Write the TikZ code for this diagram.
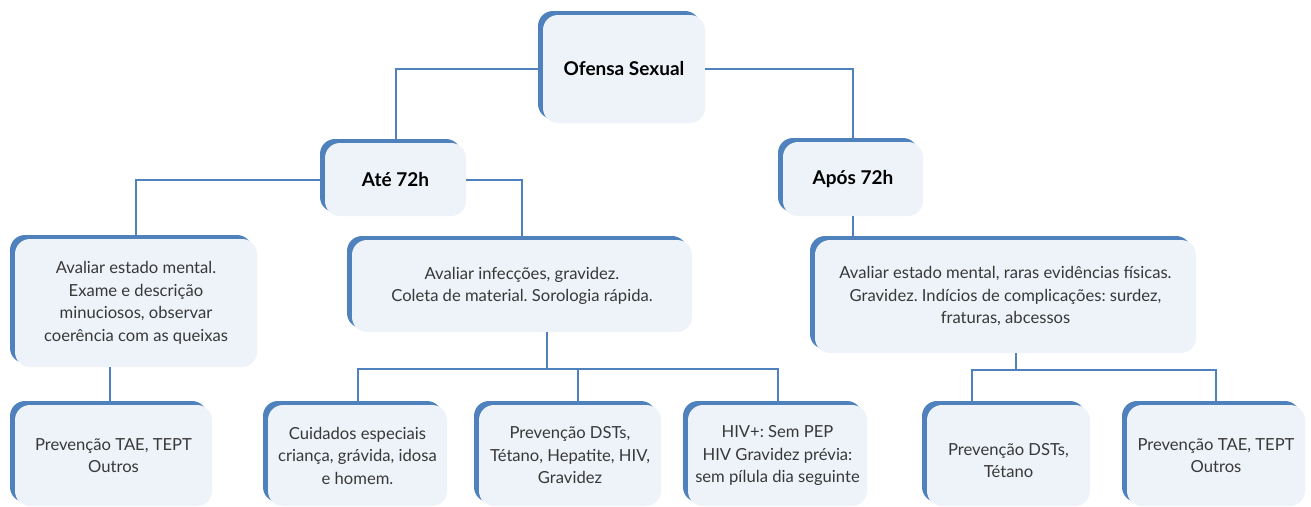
\documentclass[tikz,border=0pt]{standalone}
\usepackage{fontspec}
\setmainfont{Lato}
\usetikzlibrary{shadows}
\frenchspacing

\definecolor{linhaazul}{HTML}{4F81BD}
\definecolor{fundocaixa}{HTML}{EEF3F9}
\definecolor{textocinza}{HTML}{383838}

\tikzset{
  caixa/.style={shape=rectangle, rounded corners=15pt, fill=fundocaixa,
    align=center, text=textocinza, inner sep=0pt,
    font=\fontsize{16.6}{22.5}\selectfont,
    drop shadow={shadow xshift=-5pt, shadow yshift=4pt, fill=linhaazul, opacity=1}},
  titulo/.style={caixa, text=black, font=\bfseries\fontsize{19}{22}\selectfont},
  ligacao/.style={draw=linhaazul, line width=2pt},
}

\begin{document}
\begin{tikzpicture}[x=1pt, y=-1pt]
  \useasboundingbox (0,0) rectangle (1311,506);

  % topo
  \node[titulo, minimum width=162, minimum height=108] (ofensa) at (624,69) {Ofensa Sexual};
  \node[titulo, minimum width=141, minimum height=73] (ate) at (395.5,179.5) {Até 72h};
  \node[titulo, minimum width=140, minimum height=74] (apos) at (853,179) {Após 72h};

  % segundo nivel
  \node[caixa, minimum width=242, minimum height=128] (mental) at (136,303)
    {Avaliar estado mental.\\Exame e descrição\\minuciosos, observar\\coerência com as queixas};
  \node[caixa, minimum width=340, minimum height=92] (infec) at (522,286)
    {Avaliar infecções, gravidez.\\Coleta de material. Sorologia rápida.};
  \node[caixa, minimum width=381, minimum height=113] (sinais) at (1005.5,296.5)
    {Avaliar estado mental, raras evidências físicas.\\Gravidez. Indícios de complicações: surdez,\\fraturas, abcessos};

  % base
  \node[caixa, minimum width=197, minimum height=101] (tae1) at (113.5,455.5)
    {Prevenção TAE, TEPT\\Outros};
  \node[caixa, minimum width=179, minimum height=101] (cuid) at (357.5,455.5)
    {Cuidados especiais\\criança, grávida, idosa\\e homem.};
  \node[caixa, minimum width=182, minimum height=101] (dst1) at (570,455.5)
    {Prevenção DSTs,\\Tétano, Hepatite, HIV,\\Gravidez};
  \node[caixa, minimum width=179, minimum height=101] (hiv) at (777.5,455.5)
    {HIV+: Sem PEP\\HIV Gravidez prévia:\\sem pílula dia seguinte};
  \node[caixa, minimum width=163, minimum height=101] (dst2) at (1008.5,455.5)
    {~\\Prevenção DSTs,\\Tétano};
  \node[caixa, minimum width=178, minimum height=101] (tae2) at (1216,455.5)
    {Prevenção TAE, TEPT\\Outros};

  % ligacoes
  \coordinate (desce1) at (110,400);
  \coordinate (barra1) at (547,369);
  \coordinate (meio1) at (578,369);
  \coordinate (barra2) at (1016,370);
  \coordinate (esq2) at (972,370);

  \draw[ligacao] (ofensa.west) -| (ate.north);
  \draw[ligacao] (ofensa.east) -| (apos.north);
  \draw[ligacao] (ate.west) -| (mental.north);
  \draw[ligacao] (ate.east) -| (infec.north);
  \draw[ligacao] (apos.south) -- (apos.south |- sinais.north);
  \draw[ligacao] (desce1 |- tae1.north) -- (desce1 |- mental.south);
  \draw[ligacao] (barra1 |- infec.south) -- (barra1);
  \draw[ligacao] (cuid.north) |- (hiv.north |- barra1) -- (hiv.north);
  \draw[ligacao] (meio1) -- (meio1 |- dst1.north);
  \draw[ligacao] (barra2 |- sinais.south) -- (barra2);
  \draw[ligacao] (esq2 |- dst2.north) |- (tae2.north |- barra2) -- (tae2.north);
\end{tikzpicture}
\end{document}
